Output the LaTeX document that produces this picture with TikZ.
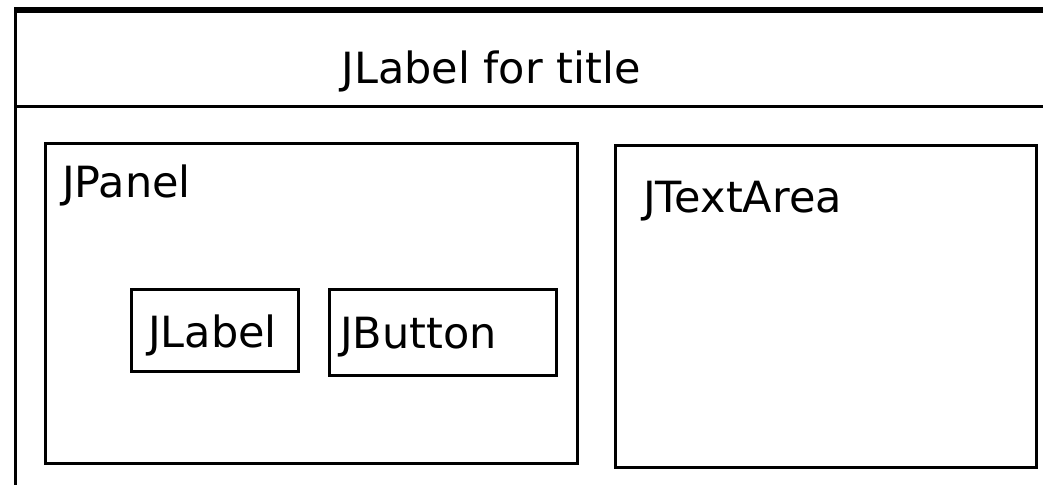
\documentclass[tikz,border=0pt]{standalone}
\usepackage{fontspec}
\setmainfont{DejaVu Sans}
\usetikzlibrary{positioning}

\tikzset{
    box/.style={draw=black, line width=3pt, inner sep=0pt, rectangle},
    lbl/.style={inner sep=0pt, font=\fontsize{43}{50}\selectfont, anchor=base west},
}

\begin{document}
\begin{tikzpicture}[x=1pt, y=-1pt, line cap=butt, line join=miter]

\useasboundingbox (0,0) rectangle (1043,485);

% frame of the window
\coordinate (topL) at (14,10);
\coordinate (topR) at (1043,10);
\coordinate (leftT) at (15.5,7);
\coordinate (leftB) at (15.5,485);
\coordinate (sepL) at (15,106.5);
\coordinate (sepR) at (1043,106.5);
\draw[line width=6pt] (topL) -- (topR);
\draw[line width=3pt] (leftT) -- (leftB);
\draw[line width=3pt] (sepL) -- (sepR);

\node[lbl, anchor=base] (title) at (491,83) {JLabel for title};

% panels
\node[box, minimum width=532pt, minimum height=320pt] (panel) at (311.5,303.5) {};
\node[box, minimum width=421pt, minimum height=322pt] (area) at (826,306.5) {};
\node[box, minimum width=167pt, minimum height=82pt] (label) at (215,330.5) {};
\node[box, minimum width=227pt, minimum height=86pt] (button) at (443,332.5) {};

\node[lbl] (panelname) at (62,197) {JPanel};
\node[lbl] (areaname) at (643,212) {JTextArea};
\node[lbl] (labelname) at (148,347) {JLabel};
\node[lbl] (buttonname) at (340,348) {JButton};

\end{tikzpicture}
\end{document}
